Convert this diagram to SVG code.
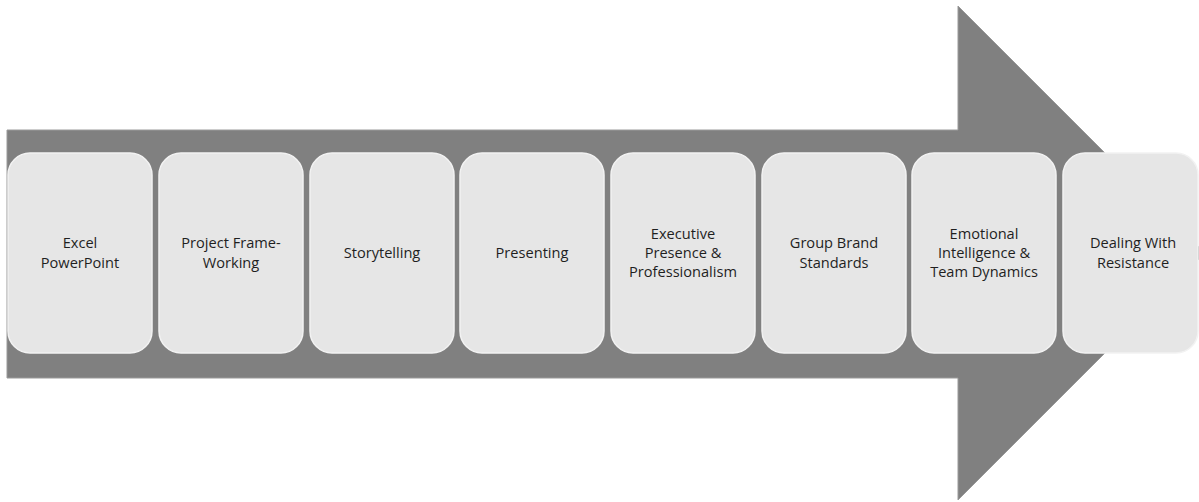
<svg xmlns="http://www.w3.org/2000/svg" width="1199" height="502" viewBox="0 0 1199 502">
  <style>
    .box { fill: #e6e6e6; stroke: #f2f2f2; stroke-width: 1.5; }
    .lbl { font-family: "Open Sans", "Liberation Sans", sans-serif; font-size: 14.6px; fill: #1f1f1f; text-anchor: middle; }
  </style>
  <rect width="1199" height="502" fill="#ffffff"/>
  <!-- large process arrow behind the steps -->
  <g id="arrow">
    <path d="M7,130 H958 V6 L1205,253 L958,500 V378 H7 Z" fill="#808080" stroke="#9a9a9a" stroke-width="1"/>
  </g>
  <g id="step1"><rect class="box" x="8" y="153" width="144" height="200" rx="22"/>
    <text class="lbl" x="80" y="248">Excel</text><text class="lbl" x="80" y="268">PowerPoint</text></g>
  <g id="step2"><rect class="box" x="159" y="153" width="144" height="200" rx="22"/>
    <text class="lbl" x="231" y="248">Project Frame-</text><text class="lbl" x="231" y="268">Working</text></g>
  <g id="step3"><rect class="box" x="310" y="153" width="144" height="200" rx="22"/>
    <text class="lbl" x="382" y="258">Storytelling</text></g>
  <g id="step4"><rect class="box" x="460" y="153" width="144" height="200" rx="22"/>
    <text class="lbl" x="532" y="258">Presenting</text></g>
  <g id="step5"><rect class="box" x="611" y="153" width="144" height="200" rx="22"/>
    <text class="lbl" x="683" y="239">Executive</text><text class="lbl" x="683" y="258">Presence &amp;</text><text class="lbl" x="683" y="277">Professionalism</text></g>
  <g id="step6"><rect class="box" x="762" y="153" width="144" height="200" rx="22"/>
    <text class="lbl" x="834" y="248">Group Brand</text><text class="lbl" x="834" y="268">Standards</text></g>
  <g id="step7"><rect class="box" x="912" y="153" width="144" height="200" rx="22"/>
    <text class="lbl" x="984" y="239">Emotional</text><text class="lbl" x="984" y="258">Intelligence &amp;</text><text class="lbl" x="984" y="277">Team Dynamics</text></g>
  <g id="step8"><rect class="box" x="1063" y="153" width="135" height="200" rx="22"/>
    <text class="lbl" x="1133" y="248">Dealing With</text><text class="lbl" x="1133" y="268">Resistance</text></g>
</svg>
